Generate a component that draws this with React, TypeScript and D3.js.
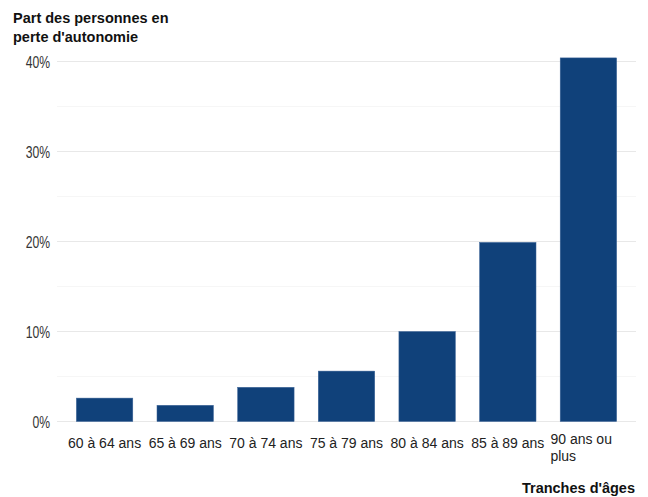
import React from 'react';
import * as d3 from 'd3';

const categories = [
  '60 à 64 ans',
  '65 à 69 ans',
  '70 à 74 ans',
  '75 à 79 ans',
  '80 à 84 ans',
  '85 à 89 ans',
  '90 ans ou plus',
];
// part des personnes en perte d'autonomie (%)
const values = [2.6, 1.8, 3.8, 5.6, 10.0, 19.9, 40.4];
const majorTicks = [0, 10, 20, 30, 40];
const minorTicks = [5, 15, 25, 35];

// split long labels like ggplot's wrapped axis text
const labelLines: Record<string, string[]> = {
  '90 ans ou plus': ['90 ans ou', 'plus'],
};

const App = () => {
  const width = 648;
  const height = 497;
  const left = 57;
  const right = 636;

  const x = d3
    .scaleBand<string>()
    .domain(categories)
    .range([left, right])
    .paddingInner(0.3)
    .paddingOuter(0.24);
  const y = d3.scaleLinear().domain([0, 40]).range([421.5, 61.5]);

  const barColor = '#10417a';

  return (
    <div style={{ position: 'absolute', left: 0, top: 0 }}>
      <svg width={width} height={height} style={{ display: 'block' }}>
        <rect width={width} height={height} fill="#fff" />

        {minorTicks.map(t => (
          <line key={'m' + t} x1={left} x2={right} y1={y(t)} y2={y(t)} stroke="#f4f4f4" strokeWidth={0.8} />
        ))}
        {majorTicks.map(t => (
          <line key={'g' + t} x1={left} x2={right} y1={y(t)} y2={y(t)} stroke="#e8e8e8" strokeWidth={1} />
        ))}

        {/* condensed-looking tick labels: squeeze Liberation Sans horizontally */}
        {majorTicks.map(t => (
          <text
            key={'t' + t}
            transform={`translate(50,${y(t) + 6}) scale(0.76,1)`}
            textAnchor="end"
            fontFamily="'Liberation Sans', Arial, sans-serif"
            fontSize={16}
            fill="#333"
          >
            {t}%
          </text>
        ))}

        {categories.map((c, i) => (
          <rect
            key={c}
            x={x(c)}
            y={y(values[i])}
            width={x.bandwidth()}
            height={y(0) - y(values[i])}
            fill={barColor}
            stroke="#3d6598"
            strokeWidth={0.5}
          />
        ))}

        {categories.map(c => {
          const cx = (x(c) as number) + x.bandwidth() / 2;
          const lines = labelLines[c];
          if (lines) {
            return (
              <text
                key={'l' + c}
                x={cx - 38}
                y={444}
                fontFamily="'Liberation Sans', Arial, sans-serif"
                fontSize={14}
                fill="#222"
              >
                {lines.map((ln, k) => (
                  <tspan key={k} x={cx - 38} dy={k === 0 ? 0 : 17}>
                    {ln}
                  </tspan>
                ))}
              </text>
            );
          }
          return (
            <text
              key={'l' + c}
              x={cx}
              y={448}
              textAnchor="middle"
              fontFamily="'Liberation Sans', Arial, sans-serif"
              fontSize={14}
              fill="#222"
            >
              {c}
            </text>
          );
        })}

        <text x={13} y={23} fontFamily="'Liberation Sans', Arial, sans-serif" fontSize={14.5} fontWeight="bold" fill="#111">
          Part des personnes en
        </text>
        <text x={13} y={42} fontFamily="'Liberation Sans', Arial, sans-serif" fontSize={14.5} fontWeight="bold" fill="#111">
          perte d'autonomie
        </text>

        <text
          x={635}
          y={493}
          textAnchor="end"
          fontFamily="'Liberation Sans', Arial, sans-serif"
          fontSize={14.5}
          fontWeight="bold"
          fill="#111"
        >
          Tranches d'âges
        </text>
      </svg>
    </div>
  );
};

export default App;
